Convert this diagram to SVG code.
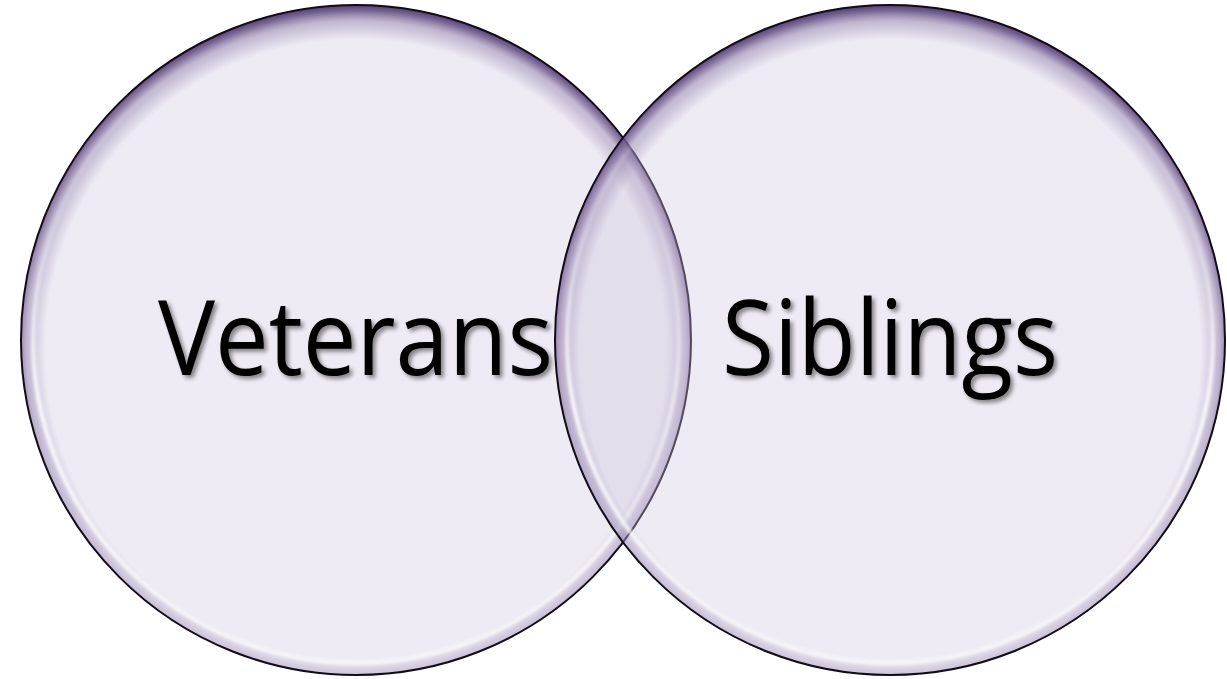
<svg xmlns="http://www.w3.org/2000/svg" width="1227" height="679" viewBox="0 0 1227 679">
  <style>
    .disc { fill: url(#discFill); }
    .rim { fill: url(#rimShade); }
    .edge { fill: none; stroke: #120c18; stroke-width: 2; }
    .shine { fill: none; stroke: url(#shineFade); stroke-width: 4; filter: url(#soft); }
    .label { font-family: "Open Sans", "Liberation Sans", sans-serif; font-size: 104px; fill: #000; filter: url(#drop); }
  </style>
  <defs>
    <radialGradient id="discFill" cx="0.5" cy="0.5" r="0.5">
      <stop offset="0" stop-color="#cfc3dc" stop-opacity="0.34"/>
      <stop offset="1" stop-color="#cfc3dc" stop-opacity="0.34"/>
    </radialGradient>
    <radialGradient id="rimShade" cx="0.5" cy="0.515" r="0.515">
      <stop offset="0" stop-color="#7b6699" stop-opacity="0"/>
      <stop offset="0.9" stop-color="#7b6699" stop-opacity="0"/>
      <stop offset="0.955" stop-color="#7b6699" stop-opacity="0.4"/>
      <stop offset="0.985" stop-color="#5f4a80" stop-opacity="0.85"/>
      <stop offset="1" stop-color="#4a3668" stop-opacity="0.95"/>
    </radialGradient>
    <linearGradient id="shineFade" x1="0" y1="0" x2="0" y2="1">
      <stop offset="0" stop-color="#fff" stop-opacity="0"/>
      <stop offset="0.3" stop-color="#fff" stop-opacity="0.2"/>
      <stop offset="0.6" stop-color="#fff" stop-opacity="0.9"/>
      <stop offset="1" stop-color="#fff" stop-opacity="0.65"/>
    </linearGradient>
    <filter id="soft" x="-5%" y="-5%" width="110%" height="110%">
      <feGaussianBlur stdDeviation="1.6"/>
    </filter>
    <filter id="drop" x="-10%" y="-20%" width="120%" height="150%">
      <feGaussianBlur in="SourceAlpha" stdDeviation="2.2" result="b"/>
      <feOffset in="b" dx="3" dy="3" result="o"/>
      <feComponentTransfer in="o" result="s">
        <feFuncA type="linear" slope="0.45"/>
      </feComponentTransfer>
      <feMerge>
        <feMergeNode in="s"/>
        <feMergeNode in="SourceGraphic"/>
      </feMerge>
    </filter>
  </defs>

  <g id="veterans">
    <circle class="disc" cx="356" cy="340" r="335"/>
    <circle class="rim" cx="356" cy="340" r="335"/>
    <circle class="shine" cx="356" cy="340" r="323"/>
    <circle class="edge" cx="356" cy="340" r="335"/>
    <text class="label" x="158" y="375" textLength="395" lengthAdjust="spacingAndGlyphs">Veterans</text>
  </g>

  <g id="siblings">
    <circle class="disc" cx="890" cy="340" r="335"/>
    <circle class="rim" cx="890" cy="340" r="335"/>
    <circle class="shine" cx="890" cy="340" r="323"/>
    <circle class="edge" cx="890" cy="340" r="335"/>
    <text class="label" x="722" y="375" textLength="336" lengthAdjust="spacingAndGlyphs">Siblings</text>
  </g>
</svg>
